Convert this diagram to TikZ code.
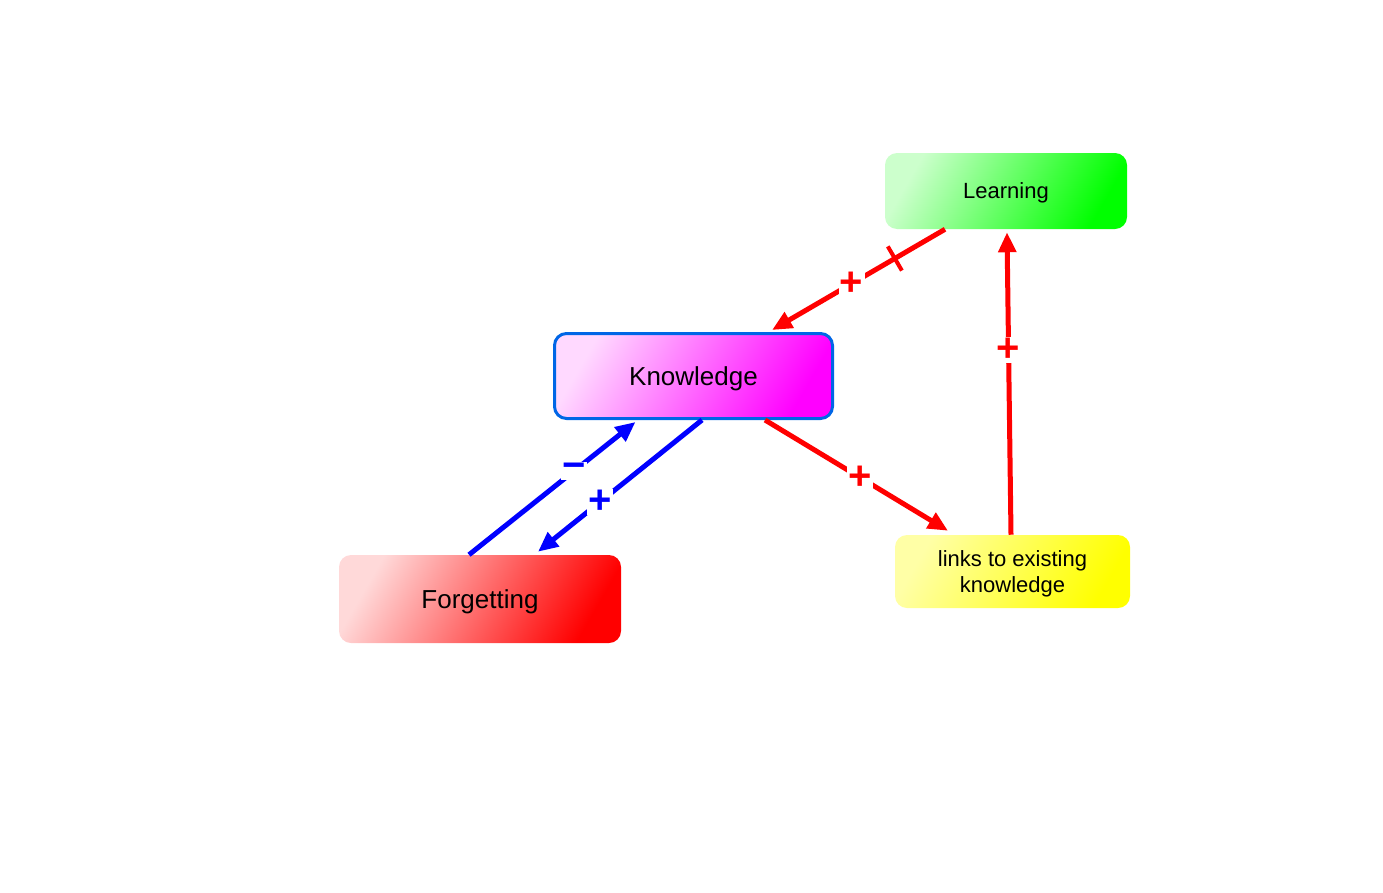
\documentclass[tikz,border=0pt]{standalone}
\usepackage{fontspec}
\setmainfont{Liberation Sans}
\usetikzlibrary{arrows.meta,calc}
\definecolor{knowline}{RGB}{0,102,230}
\begin{document}
\begin{tikzpicture}[x=0.75pt,y=-0.75pt,
    box/.style={rounded corners=9pt, inner sep=0pt, align=center, text depth=0pt},
    link/.style={line width=3.75pt, -{Triangle[length=15pt,width=13pt]}},
    sign/.style={fill=white, inner sep=1pt, font=\fontsize{30}{30}\selectfont\bfseries}]
    \useasboundingbox (0,0) rectangle (1383,892);
    \node[box, minimum width=181.5pt, minimum height=57pt, left color=green!20, right color=green, shading angle=60,
        font=\fontsize{16.5}{19.5}\selectfont] (learn) at (1006,191) {Learning};
    \node[box, draw=knowline, line width=2.25pt, minimum width=208.5pt, minimum height=63.75pt,
        left color=magenta!15, right color=magenta, shading angle=60,
        font=\fontsize{19.5}{22}\selectfont] (know) at (693.5,376) {Knowledge};
    \node[box, minimum width=211.5pt, minimum height=66pt, left color=red!15, right color=red, shading angle=60,
        font=\fontsize{19.5}{22}\selectfont] (forg) at (480,599) {Forgetting};
    \node[box, minimum width=176.25pt, minimum height=54.75pt, left color=yellow!35, right color=yellow, shading angle=60,
        font=\fontsize{16.5}{19.5}\selectfont] (links) at (1012.5,571.5) {links to existing\\knowledge};
    \coordinate (lk1) at ($(learn.south)+(-61,0)$);
    \coordinate (lk2) at ($(know.north)+(78.5,-2)$);
    \draw[link, red] (lk1) -- node[sign, text=red, pos=0.54] {+} (lk2);
    \coordinate (delay) at ($(lk1)!0.29!(lk2)$);
    \draw[red, line width=3pt] ($(delay)!10.5pt!90:(lk2)$) -- ($(delay)!10.5pt!-90:(lk2)$);
    \draw[link, red] ($(know.south)+(71.5,0)$) -- node[sign, text=red, pos=0.52] {+} ($(links.north)+(-64.5,-4)$);
    \draw[link, red] ($(links.north)+(-1.5,0)$) -- node[sign, text=red, pos=0.61] {+} ($(learn.south)+(1,3)$);
    \draw[link, blue] ($(forg.north)+(-11,0)$) -- node[sign, text=blue, pos=0.63] {−} ($(know.south)+(-58,2)$);
    \draw[link, blue] ($(know.south)+(8.5,0)$) -- node[sign, text=blue, pos=0.62] {+} ($(forg.north)+(58,-3)$);
\end{tikzpicture}
\end{document}
